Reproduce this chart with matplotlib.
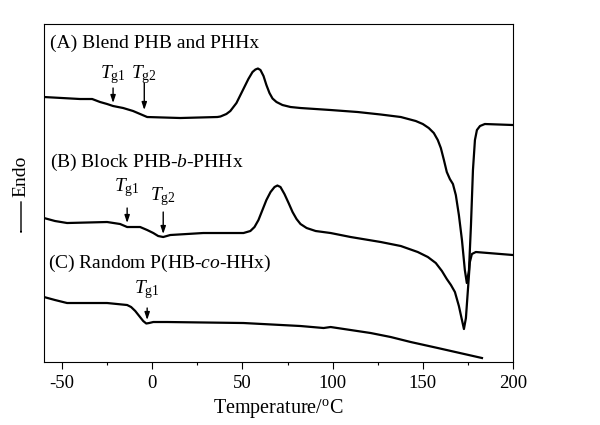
import numpy as np
import matplotlib
matplotlib.use('Agg')
import matplotlib.pyplot as plt

plt.rcParams['font.family'] = ['Liberation Serif', 'DejaVu Serif']
plt.rcParams['mathtext.fontset'] = 'custom'
plt.rcParams['mathtext.rm'] = 'Liberation Serif'
plt.rcParams['mathtext.it'] = 'Liberation Serif:italic'
plt.rcParams['axes.unicode_minus'] = False

# DSC traces, heat flow in arbitrary units (endo down)
temp_a = [-60, -40, -33.3, -28.9, -25, -21.7, -16.1, -10.6, -6.7, -2.8, 15.6, 36.1, 37.8,
          41.1, 43.3, 46.7, 48.9, 51.1, 53.3, 55.6, 57.2, 58.6, 60, 61.7, 63.3, 65, 66.7,
          68.9, 72.2, 76.7, 82.2, 98.9, 113.9, 126.7, 137.8, 146.1, 150, 153.3, 156.1, 158.3,
          160, 161.7, 163.3, 165, 166.7, 168.3, 170, 171.7, 173.3, 174.4, 175.6, 176.7, 177.8,
          178.9, 180, 181.7, 184.4, 200]
flow_a = [26.5, 26.3, 26.3, 26.0, 25.8, 25.6, 25.4, 25.1, 24.8, 24.5, 24.4, 24.5, 24.55,
          24.8, 25.1, 25.9, 26.7, 27.5, 28.3, 29.0, 29.25, 29.35, 29.2, 28.6, 27.7, 26.9, 26.35,
          26.0, 25.7, 25.5, 25.4, 25.2, 25.0, 24.75, 24.5, 24.1, 23.8, 23.4, 22.9, 22.2,
          21.4, 20.2, 19.0, 18.3, 17.8, 16.7, 14.7, 12.2, 9.2, 7.9, 9.2, 13.7, 19.2,
          22.2, 23.2, 23.6, 23.8, 23.7]

temp_b = [-60, -53.9, -47.2, -25, -17.8, -13.9, -6.7, -2.8, 0.6, 3.3, 6.1, 10, 28.3, 50.6,
          54.4, 56.7, 58.9, 61.1, 63.3, 65.6, 67.8, 69.4, 71.1, 73.3, 75.6, 77.8, 80, 82.2,
          85.6, 90.6, 98.9, 110, 126.7, 137.8, 147.2, 152.8, 157.2, 160.6, 163.3, 165.6,
          167.8, 170, 171.7, 172.8, 173.9, 175, 176.1, 177.2, 179.4, 200]
flow_b = [14.4, 14.1, 13.9, 14.0, 13.8, 13.5, 13.5, 13.2, 12.9, 12.6, 12.5, 12.7, 12.9, 12.9,
          13.1, 13.5, 14.2, 15.2, 16.2, 17.0, 17.5, 17.65, 17.5, 16.8, 15.9, 15.0, 14.3, 13.8,
          13.4, 13.1, 12.9, 12.5, 12.0, 11.6, 11.0, 10.5, 9.9, 9.1, 8.3, 7.7,
          7.0, 5.6, 4.2, 3.3, 4.4, 7.2, 10.0, 10.8, 11.0, 10.7]

temp_c = [-60, -53.9, -47.2, -25, -13.9, -11.7, -9.4, -7.2, -5, -3.3, -1.7, 0.6, 8.3, 50.6,
          82.2, 95, 98.9, 110, 121.1, 132.2, 143.3, 158.3, 182.8]
flow_c = [6.5, 6.2, 5.9, 5.9, 5.7, 5.5, 5.1, 4.6, 4.1, 3.85, 3.9, 4.0, 4.0, 3.9,
          3.6, 3.4, 3.5, 3.2, 2.9, 2.5, 2.0, 1.4, 0.4]

labels = ['(A) Blend PHB and PHHx', '(B) Block PHB-$b$-PHHx', '(C) Random P(HB-$co$-HHx)']

fig = plt.figure(figsize=(6, 4.25), dpi=100)
ax = fig.add_axes([0.0733, 0.1482, 0.7817, 0.7953])

for t, f in [(temp_a, flow_a), (temp_b, flow_b), (temp_c, flow_c)]:
    ax.plot(t, f, color='black', lw=1.6, solid_joinstyle='round')

ax.set_xlim(-60, 200)
ax.set_ylim(0, 33.8)
ax.set_xticks([-50, 0, 50, 100, 150, 200])
ax.set_xticks([-25, 25, 75, 125, 175], minor=True)
ax.set_yticks([])
ax.tick_params(axis='x', which='major', direction='out', length=5, width=0.8, labelsize=13.5, pad=4)
ax.tick_params(axis='x', which='minor', direction='out', length=2.5, width=0.8)
for s in ax.spines.values():
    s.set_linewidth(0.8)
ax.set_xlabel('Temperature/$^{\\rm o}$C', fontsize=14.5, labelpad=4)

# sample labels
ax.text(-56.5, 31.9, labels[0], fontsize=14, va='center', ha='left')
ax.text(-56.5, 20.0, labels[1], fontsize=14, va='center', ha='left')
ax.text(-57.5, 9.9, labels[2], fontsize=14, va='center', ha='left')

# glass transition markers
arr = dict(arrowstyle='-|>,head_width=0.15,head_length=0.45', color='black', lw=1.0, shrinkA=0, shrinkB=0)
tg = [(-21.7, 27.4, 25.9, 'g1', 28.7), (-4.4, 27.9, 25.2, 'g2', 28.7),
      (-13.9, 15.4, 13.9, 'g1', 17.4), (6.1, 15.0, 12.8, 'g2', 16.5),
      (-2.8, 5.4, 4.2, 'g1', 7.2)]
for x, y0, y1, sub, ty in tg:
    ax.annotate('', xy=(x, y1), xytext=(x, y0), arrowprops=arr)
    ax.text(x, ty, '$T_{\\rm ' + sub + '}$', fontsize=14, ha='center', va='center')

# Endo label with downward arrow
fig.text(21 / 600, 1 - 176 / 425, 'Endo', rotation=90, fontsize=14, ha='center', va='center')
fig.patches.append(matplotlib.patches.FancyArrowPatch(
    (21 / 600, 1 - 199 / 425), (21 / 600, 1 - 237 / 425), transform=fig.transFigure,
    arrowstyle='-|>,head_width=0.15,head_length=0.45', color='black', lw=1.0))

fig.savefig('out.png', dpi=100)
